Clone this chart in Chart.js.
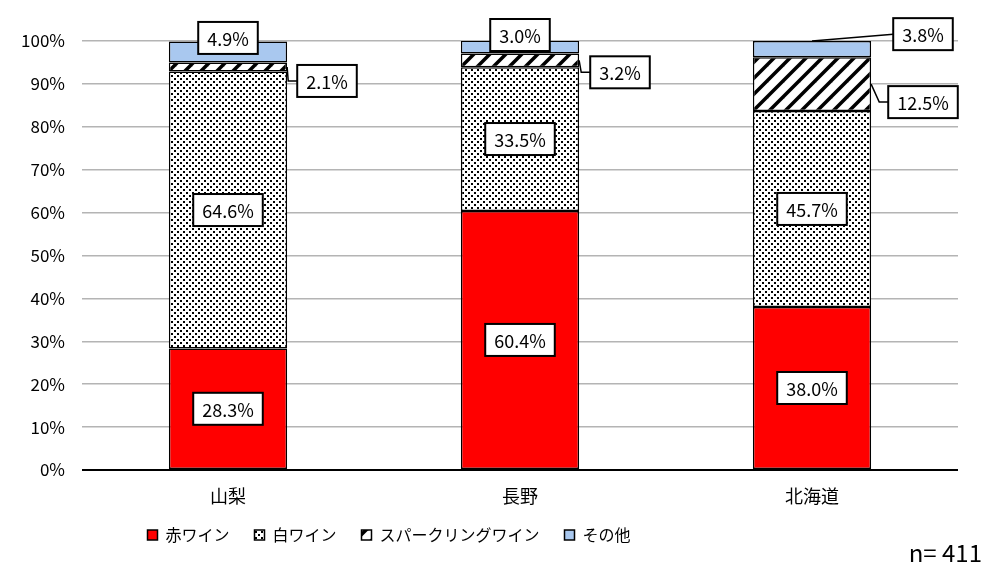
<!DOCTYPE html>
<html>
<head>
<meta charset="utf-8">
<script src="https://cdn.jsdelivr.net/npm/chart.js@4"></script>
<style>
  html, body { margin: 0; padding: 0; background: #fff; }
  #wrap { width: 1000px; height: 571px; }
</style>
</head>
<body>
<div id="wrap"><canvas id="wineChart" width="1000" height="571"></canvas></div>
<script>
const regions = ["山梨", "長野", "北海道"];
const seriesNames = ["赤ワイン", "白ワイン", "スパークリングワイン", "その他"];
const redWine = [28.3, 60.4, 38.0];
const whiteWine = [64.6, 33.5, 45.7];
const sparkling = [2.1, 3.2, 12.5];
const otherWine = [4.9, 3.0, 3.8];
const yTicks = [0, 10, 20, 30, 40, 50, 60, 70, 80, 90, 100];
const sampleNote = "n= 411";

const FONT = '"Noto Sans CJK JP", "Noto Sans", sans-serif';

// fill patterns
function dotPattern() {
  const c = document.createElement("canvas");
  c.width = 6; c.height = 6;
  const g = c.getContext("2d");
  g.fillStyle = "#fff"; g.fillRect(0, 0, 6, 6);
  g.fillStyle = "#000";
  g.fillRect(0, 0, 2, 2);
  g.fillRect(3, 3, 2, 2);
  return g.createPattern(c, "repeat");
}
function stripePattern() {
  const s = 16;
  const c = document.createElement("canvas");
  c.width = s; c.height = s;
  const g = c.getContext("2d");
  g.fillStyle = "#fff"; g.fillRect(0, 0, s, s);
  g.strokeStyle = "#000"; g.lineWidth = 3.5;
  [[0, s, s, 0], [-s / 2, s / 2, s / 2, -s / 2], [s / 2, s * 1.5, s * 1.5, s / 2]].forEach(([a, b, cc, d]) => {
    g.beginPath(); g.moveTo(a, b); g.lineTo(cc, d); g.stroke();
  });
  return g.createPattern(c, "repeat");
}

// where labels of thin segments go (px offset from segment centre)
const placement = {
  "3-0": { dx: 0, dy: -14 },
  "2-0": { dx: 99, dy: 14, leader: "side" },
  "3-1": { dx: 0, dy: -12 },
  "2-1": { dx: 100, dy: 12, leader: "side" },
  "3-2": { dx: 111, dy: -15, leader: "top" },
  "2-2": { dx: 111, dy: 18, leader: "side" }
};

const boxLabels = {
  id: "boxLabels",
  afterDatasetsDraw(chart) {
    const ctx = chart.ctx;
    ctx.save();
    ctx.font = "18px " + FONT;
    ctx.textAlign = "center";
    ctx.textBaseline = "middle";
    chart.data.datasets.forEach((ds, di) => {
      chart.getDatasetMeta(di).data.forEach((bar, i) => {
        const v = ds.data[i];
        const top = Math.min(bar.y, bar.base), bottom = Math.max(bar.y, bar.base);
        const cy = (top + bottom) / 2;
        const p = placement[di + "-" + i] || { dx: 0, dy: 0 };
        const x = bar.x + p.dx, y = cy + p.dy;
        const text = v.toFixed(1) + "%";
        const w = ctx.measureText(text).width + 18, h = 32;
        ctx.strokeStyle = "#000";
        if (p.leader === "side") {
          const ax = bar.x + bar.width / 2;
          ctx.lineWidth = 1.5;
          ctx.beginPath();
          ctx.moveTo(ax, cy);
          ctx.lineTo(x - w / 2 - 9, y);
          ctx.lineTo(x - w / 2, y);
          ctx.stroke();
        } else if (p.leader === "top") {
          ctx.lineWidth = 1.5;
          ctx.beginPath();
          ctx.moveTo(bar.x, top);
          ctx.lineTo(x - w / 2, y);
          ctx.stroke();
        }
        ctx.fillStyle = "#fff";
        ctx.fillRect(x - w / 2, y - h / 2, w, h);
        ctx.lineWidth = 2;
        ctx.strokeRect(x - w / 2, y - h / 2, w, h);
        ctx.fillStyle = "#000";
        ctx.fillText(text, x, y + 1);
      });
    });
    ctx.restore();
  }
};

const noteText = {
  id: "noteText",
  afterDraw(chart) {
    const ctx = chart.ctx;
    ctx.save();
    ctx.font = "24px " + FONT;
    ctx.fillStyle = "#000";
    ctx.textAlign = "right";
    ctx.textBaseline = "alphabetic";
    ctx.fillText(sampleNote, 982, 562);
    ctx.restore();
  }
};

// nudge the legend left/up so it sits where the original has it
const legendShift = {
  id: "legendShift",
  afterLayout(chart) {
    const l = chart.legend;
    l.left -= 90; l.right -= 90;
    l.top -= 8; l.bottom -= 8;
  }
};

const dots = dotPattern();
const stripes = stripePattern();
const common = { borderColor: "#000", borderWidth: 1.5, borderSkipped: false, barPercentage: 0.81, categoryPercentage: 0.5 };

new Chart(document.getElementById("wineChart"), {
  type: "bar",
  data: {
    labels: regions,
    datasets: [
      { label: seriesNames[0], data: redWine, backgroundColor: "#ff0000", ...common },
      { label: seriesNames[1], data: whiteWine, backgroundColor: dots, ...common },
      { label: seriesNames[2], data: sparkling, backgroundColor: stripes, ...common },
      { label: seriesNames[3], data: otherWine, backgroundColor: "#a9c8ef", ...common }
    ]
  },
  options: {
    responsive: false,
    animation: false,
    layout: { padding: { top: 41, right: 42, left: 0, bottom: 10 } },
    plugins: {
      legend: {
        position: "bottom",
        labels: { boxWidth: 10, boxHeight: 10, padding: 25, color: "#000", font: { family: FONT, size: 16 } }
      },
      tooltip: { enabled: false }
    },
    scales: {
      x: {
        stacked: true,
        grid: { display: false, drawTicks: false },
        border: { display: false },
        ticks: { color: "#000", padding: 15, font: { family: FONT, size: 18 } },
        afterFit: s => { s.height = 40; }
      },
      y: {
        stacked: true,
        min: 0,
        max: 100,
        afterBuildTicks: s => { s.ticks = yTicks.map(v => ({ value: v })); },
        grid: {
          drawTicks: false,
          color: c => (c.tick && c.tick.value === 0 ? "#000" : "#b4b4b4"),
          lineWidth: c => (c.tick && c.tick.value === 0 ? 2 : 1.5)
        },
        border: { display: false },
        ticks: { color: "#000", padding: 17, font: { family: FONT, size: 17 }, callback: v => v + "%" },
        afterFit: s => { s.width = 82; }
      }
    }
  },
  plugins: [boxLabels, noteText, legendShift]
});
</script>
</body>
</html>
